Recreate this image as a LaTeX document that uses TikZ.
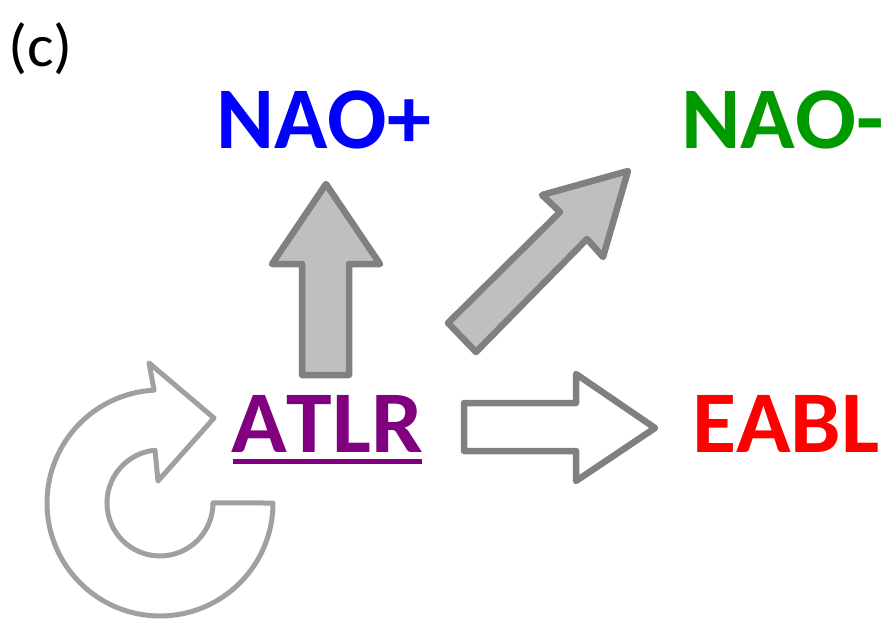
\documentclass[tikz,border=0pt]{standalone}
\usepackage{fontspec}
\setmainfont{Carlito}[Kerning=Off]
\definecolor{arrowgray}{HTML}{808080}
\definecolor{arrowfill}{HTML}{BFBFBF}
\definecolor{circgray}{HTML}{A0A0A0}
\definecolor{nplus}{HTML}{0000FF}
\definecolor{nminus}{HTML}{009900}
\definecolor{eabl}{HTML}{FF0000}
\definecolor{atlr}{HTML}{800080}
\newcommand{\wide}[2][1.045]{\scalebox{#1}[1]{#2}}
\tikzset{
  bigtext/.style={font=\fontsize{88}{88}\selectfont\bfseries, inner sep=0pt, anchor=base west},
  blockarrow/.style={draw=arrowgray, line width=6.5pt, line join=round},
  circarrow/.style={draw=circgray, line width=5pt, line join=round, fill=white},
}
\begin{document}
\begin{tikzpicture}[x=1pt,y=-1pt]
\useasboundingbox (0,0) rectangle (886,621);
% label
\node[font=\fontsize{60}{60}\selectfont, inner sep=0pt, anchor=base west] (lab) at (8,66) {\wide{(c)}};
% texts
\node[bigtext, text=nplus] (naop) at (216,148) {NAO+};
\node[bigtext, text=nminus] (naom) at (681,148) {\wide[1.025]{NAO-\kern-0.08em}};
\node[bigtext, text=eabl] (eabl) at (692,452) {\wide[1.025]{EABL}};
\node[bigtext, text=atlr] (atlr) at (231,452) {\wide{ATLR}};
\fill[atlr] (233,458.5) rectangle (422,464);
% up arrow
\draw[blockarrow, fill=arrowfill] (302,375) -- (302,264) -- (272,264) -- (326,184) -- (380,264) -- (349,264) -- (349,375) -- cycle;
% diagonal arrow
\draw[blockarrow, fill=arrowfill] (448,323) -- (560,212) -- (542,195) -- (628,171) -- (603,257) -- (587,239) -- (476,352) -- cycle;
% right arrow
\draw[blockarrow, fill=white] (464,403) -- (576,403) -- (576,374) -- (655,428) -- (576,481) -- (576,451) -- (464,451) -- cycle;
% circular arrow
\draw[circarrow] (273,503) arc[start angle=0, end angle=267, radius=113]
  -- (149,363) -- (214,418) -- (158,481) -- (155,450.2)
  arc[start angle=264.6, end angle=0, radius=53] -- cycle;
\end{tikzpicture}
\end{document}
